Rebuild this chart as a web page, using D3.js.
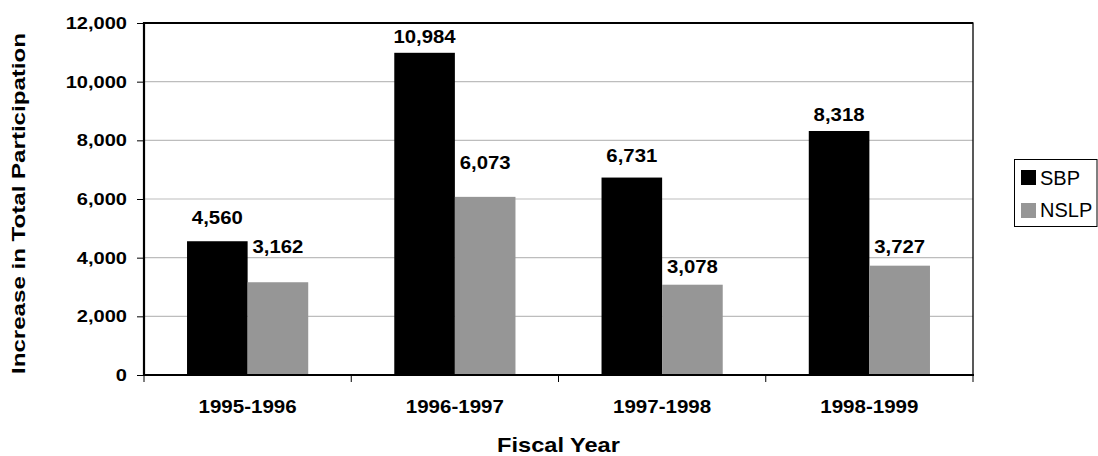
<!DOCTYPE html>
<html><head><meta charset="utf-8">
<script src="https://cdn.jsdelivr.net/npm/d3@7"></script>
<style>body{margin:0;background:#fff}svg{display:block;font-family:Arial,"Liberation Sans",sans-serif}</style>
</head><body><svg id="c" width="1098" height="456"></svg>
<script>
const categories = ["1995-1996","1996-1997","1997-1998","1998-1999"];
const seriesNames = ["SBP","NSLP"];
const sbp = [4560,10984,6731,8318];
const nslp = [3162,6073,3078,3727];
const yTicks = [0,2000,4000,6000,8000,10000,12000];
const colors = ["#000000","#969696"];
// label lift above bar top (px), styling only
const labelLift = [[17,10,16,10],[29,28,12,13]];

const FONT = "Arial,'Liberation Sans',sans-serif";
function stretch(sel, f){
  sel.each(function(){
    const len = this.getComputedTextLength();
    d3.select(this).attr("textLength", len*f).attr("lengthAdjust","spacingAndGlyphs");
  });
}

const svg = d3.select("#c");
const L=144, R=973, T=23, B=375;
const x = d3.scaleBand().domain(categories).range([L,R]);
const x1 = d3.scaleBand().domain(seriesNames).range([0,x.bandwidth()]).paddingInner(0).paddingOuter(0.71);
const y = d3.scaleLinear().domain([0,12000]).range([B,T]);

svg.append("g").selectAll("line").data(yTicks.filter(d=>d>0&&d<12000)).join("line")
  .attr("x1",L).attr("x2",R).attr("y1",d=>y(d)).attr("y2",d=>y(d))
  .attr("stroke","#bdbdbd").attr("stroke-width",1.2);

const data = categories.map((c,i)=>({c, i, vals:[sbp[i],nslp[i]]}));
const g = svg.append("g").selectAll("g").data(data).join("g")
  .attr("transform",d=>`translate(${x(d.c)},0)`);
g.selectAll("rect").data(d=>d.vals.map((v,j)=>({v,s:seriesNames[j],j}))).join("rect")
  .attr("x",d=>x1(d.s)).attr("width",x1.bandwidth())
  .attr("y",d=>y(d.v)).attr("height",d=>B-y(d.v))
  .attr("fill",d=>colors[d.j]);
const vl = g.selectAll("text").data(d=>d.vals.map((v,j)=>({v,s:seriesNames[j],j,i:d.i}))).join("text")
  .attr("x",d=>x1(d.s)+x1.bandwidth()/2).attr("y",d=>y(d.v)-labelLift[d.j][d.i])
  .attr("text-anchor","middle").attr("font-size",18).attr("font-weight","bold")
  .text(d=>d3.format(",")(d.v));
stretch(vl,1.13);

svg.append("rect").attr("x",L).attr("y",T).attr("width",R-L).attr("height",B-T)
  .attr("fill","none").attr("stroke","#000").attr("stroke-width",1.3);
svg.append("line").attr("x1",L).attr("x2",L).attr("y1",T-1).attr("y2",B+1).attr("stroke","#000").attr("stroke-width",2.2);
svg.append("line").attr("x1",L-1).attr("x2",R+1).attr("y1",B).attr("y2",B).attr("stroke","#000").attr("stroke-width",2.2);
svg.append("line").attr("x1",L).attr("x2",R).attr("y1",T).attr("y2",T).attr("stroke","#000").attr("stroke-width",2);

const yAxis = d3.axisLeft(y).tickValues(yTicks).tickSize(7).tickPadding(10).tickFormat(d3.format(","));
const ya = svg.append("g").attr("transform",`translate(${L},0)`).call(yAxis);
ya.select(".domain").remove();
const yt = ya.selectAll("text").attr("font-size",17).attr("font-weight","bold").attr("fill","#000").attr("font-family",FONT);
stretch(yt,1.18);
ya.selectAll("line").attr("stroke","#000");

const bounds = categories.map(c=>x(c)).concat([R]);
svg.append("g").selectAll("line").data(bounds).join("line")
  .attr("x1",d=>d).attr("x2",d=>d).attr("y1",B).attr("y2",B+7).attr("stroke","#000");
const xl = svg.append("g").selectAll("text").data(categories).join("text")
  .attr("x",d=>x(d)+x.bandwidth()/2).attr("y",413)
  .attr("text-anchor","middle").attr("font-size",18).attr("font-weight","bold").text(d=>d);
stretch(xl,1.14);

const xt = svg.append("text").attr("x",(L+R)/2).attr("y",452).attr("text-anchor","middle")
  .attr("font-size",20.5).attr("font-weight","bold").text("Fiscal Year");
stretch(xt,1.15);
svg.append("text").attr("transform",`translate(25,${(33+374)/2}) rotate(-90)`).attr("text-anchor","middle")
  .attr("font-size",17.5).attr("font-weight","bold").text("Increase in Total Participation")
  .attr("textLength",341).attr("lengthAdjust","spacingAndGlyphs");

const lg = svg.append("g");
lg.append("rect").attr("x",1014.5).attr("y",159.5).attr("width",82.5).attr("height",67)
  .attr("fill","#fff").attr("stroke","#000").attr("stroke-width",1);
seriesNames.forEach((s,i)=>{
  lg.append("rect").attr("x",1021).attr("y",170+i*33).attr("width",15).attr("height",15).attr("fill",colors[i]);
  lg.append("text").attr("x",1040).attr("y",185+i*32).attr("font-size",20).text(s);
});
</script></body></html>
